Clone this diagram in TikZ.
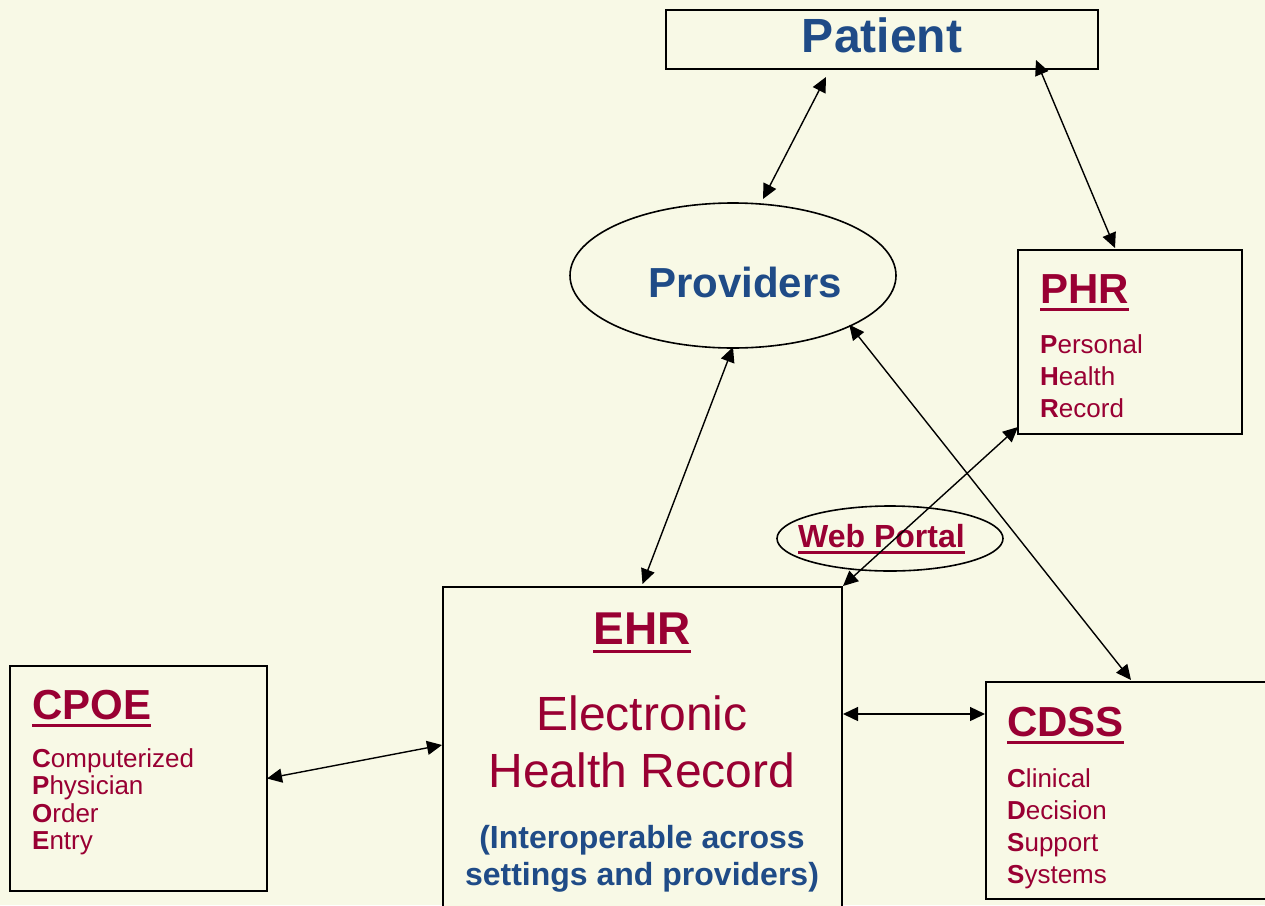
\documentclass[tikz,border=0pt]{standalone}
\usepackage{fontspec}
\setmainfont{Liberation Sans}
\usetikzlibrary{shapes.geometric,arrows.meta,calc}
\definecolor{bg}{RGB}{248,249,230}
\definecolor{navy}{RGB}{31,75,135}
\definecolor{wine}{RGB}{153,0,51}

\begin{document}
\begin{tikzpicture}[x=1pt,y=-1pt,
  box/.style={draw=black,line width=1.6pt,fill=bg,rectangle,inner sep=0pt,outer sep=0pt},
  oval/.style={draw=black,line width=1.6pt,fill=bg,ellipse,inner sep=0pt,outer sep=0pt},
  head/.style={text=wine,font=\fontsize{42}{48}\selectfont\bfseries,inner sep=0pt,anchor=base west},
  item/.style={text=wine,font=\fontsize{26}{28}\selectfont,inner sep=0pt,anchor=base west},
  uline/.style={wine,line width=3pt},
  link/.style={{Triangle[length=15pt,width=14pt]}-{Triangle[length=15pt,width=14pt]},line width=1.4pt}]

% canvas
\fill[bg] (0,0) rectangle (1265,905);
\useasboundingbox (0,0) rectangle (1265,905);
\clip (0,0) rectangle (1265,905);

% Patient
\node[box,minimum width=432pt,minimum height=59pt] (patient) at (882,39.5) {};
\node[text=navy,font=\fontsize{48}{52}\selectfont\bfseries,inner sep=0pt,anchor=base] (patient-t) at (882,52) {Patient};

% Providers
\node[oval,minimum width=326pt,minimum height=145pt] (prov) at (733,275.5) {};
\node[text=navy,font=\fontsize{42}{48}\selectfont\bfseries,inner sep=0pt,anchor=base] (prov-t) at (745,297) {Providers};

% PHR
\node[box,minimum width=224pt,minimum height=184pt] (phr) at (1130,342) {};
\node[head] (phr-t) at (1040,303) {PHR};
\draw[uline] ([yshift=-6.5pt]phr-t.base west) -- ([yshift=-6.5pt]phr-t.base east);
\node[item] (phr-1) at (1040,353) {\textbf{P}ersonal};
\node[item] (phr-2) at (1040,385) {\textbf{H}ealth};
\node[item] (phr-3) at (1040,417) {\textbf{R}ecord};

% Web portal
\node[oval,minimum width=226pt,minimum height=65pt] (web) at (890,538.5) {};
\node[text=wine,font=\fontsize{32}{36}\selectfont\bfseries,inner sep=0pt,anchor=base west] (web-t) at (798,547) {Web Portal};
\draw[wine,line width=2.5pt] ([yshift=-5.5pt]web-t.base west) -- ([yshift=-5.5pt]web-t.base east);

% EHR
\node[box,minimum width=399pt,minimum height=363pt] (ehr) at (642.5,768.5) {};
\node[text=wine,font=\fontsize{46}{52}\selectfont\bfseries,inner sep=0pt,anchor=base] (ehr-t) at (642,644) {EHR};
\draw[uline] ([yshift=-7pt]ehr-t.base west) -- ([yshift=-7pt]ehr-t.base east);
\node[text=wine,font=\fontsize{48}{57}\selectfont,inner sep=0pt,anchor=base] (ehr-1) at (642,730) {Electronic};
\node[text=wine,font=\fontsize{48}{57}\selectfont,inner sep=0pt,anchor=base] (ehr-2) at (642,787) {Health Record};
\node[text=navy,font=\fontsize{32}{37}\selectfont\bfseries,inner sep=0pt,anchor=base] (ehr-3) at (642,848) {(Interoperable across};
\node[text=navy,font=\fontsize{32}{37}\selectfont\bfseries,inner sep=0pt,anchor=base] (ehr-4) at (642,885) {settings and providers)};

% CPOE
\node[box,minimum width=257pt,minimum height=225pt] (cpoe) at (138.5,778.5) {};
\node[head] (cpoe-t) at (32,719) {CPOE};
\draw[uline] ([yshift=-6.5pt]cpoe-t.base west) -- ([yshift=-6.5pt]cpoe-t.base east);
\node[item] (cpoe-1) at (32,767) {\textbf{C}omputerized};
\node[item] (cpoe-2) at (32,794.5) {\textbf{P}hysician};
\node[item] (cpoe-3) at (32,822) {\textbf{O}rder};
\node[item] (cpoe-4) at (32,849.5) {\textbf{E}ntry};

% CDSS
\node[box,minimum width=314pt,minimum height=217pt] (cdss) at (1143,790.5) {};
\node[head] (cdss-t) at (1007,736) {CDSS};
\draw[uline] ([yshift=-6.5pt]cdss-t.base west) -- ([yshift=-6.5pt]cdss-t.base east);
\node[item] (cdss-1) at (1007,787) {\textbf{C}linical};
\node[item] (cdss-2) at (1007,819) {\textbf{D}ecision};
\node[item] (cdss-3) at (1007,851) {\textbf{S}upport};
\node[item] (cdss-4) at (1007,883) {\textbf{S}ystems};

% connectors
\draw[link] ([xshift=-56pt,yshift=-8pt]patient.south) -- ([xshift=30pt,yshift=4pt]prov.north);
\draw[link] ([xshift=154pt,yshift=9pt]patient.south) -- ([xshift=-15pt,yshift=2pt]phr.north);
\draw[link] ([yshift=1pt]prov.south) -- ([yshift=3pt]ehr.north);
\draw[link] ([xshift=1pt,yshift=2pt]prov.south east) -- ([xshift=-12pt,yshift=2pt]cdss.north);
\draw[link] ([yshift=7pt]phr.south west) -- ([xshift=1pt,yshift=1pt]ehr.north east);
\draw[link] (cpoe.east) -- ([xshift=-1pt,yshift=23.5pt]ehr.west);
\draw[link] ([xshift=1pt,yshift=54.5pt]ehr.east) -- ([xshift=-1pt,yshift=76.5pt]cdss.west);
\end{tikzpicture}
\end{document}
